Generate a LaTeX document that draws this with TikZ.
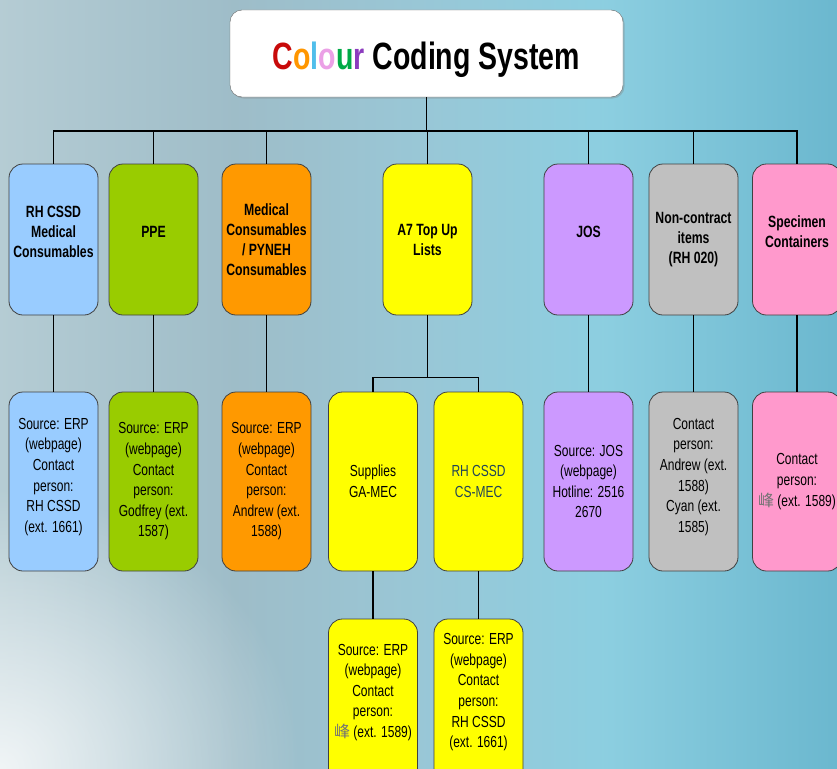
\documentclass[tikz,border=0pt]{standalone}
\usepackage{fontspec}
\setmainfont[FakeStretch=0.75]{Liberation Sans}
\newfontfamily\cjkfont{Noto Sans CJK TC}
\usepackage{xcolor}
\usepackage{tikz}
\usetikzlibrary{shadows,fadings}

\definecolor{rhblue}{HTML}{99CCFF}
\definecolor{ppegreen}{HTML}{99CC00}
\definecolor{medorange}{HTML}{FF9900}
\definecolor{topyellow}{HTML}{FFFF00}
\definecolor{jospurple}{HTML}{CC99FF}
\definecolor{ncgrey}{HTML}{C0C0C0}
\definecolor{specpink}{HTML}{FF99CC}
\definecolor{csmec}{RGB}{32,68,88}
\definecolor{lettC}{RGB}{200,10,10}
\definecolor{lettO}{RGB}{255,150,0}
\definecolor{lettL}{RGB}{80,190,235}
\definecolor{lettP}{RGB}{235,160,230}
\definecolor{lettU}{RGB}{0,170,70}
\definecolor{lettR}{RGB}{140,60,190}

\pgfdeclarehorizontalshading{bgshade}{100bp}{rgb(0bp)=(0.71,0.80,0.83); rgb(25bp)=(0.71,0.80,0.83); rgb(39bp)=(0.62,0.74,0.785); rgb(50bp)=(0.60,0.78,0.84); rgb(61bp)=(0.55,0.81,0.88); rgb(75bp)=(0.42,0.72,0.81); rgb(100bp)=(0.42,0.72,0.81)}
\tikzfading[name=glow, inner color=transparent!0, outer color=transparent!100]

\begin{document}
\begin{tikzpicture}[x=1pt,y=-1pt,
  box/.style={draw=black!75, line width=0.8pt, rounded corners=14pt, align=center,
    inner sep=2pt, minimum width=89pt, text=black},
  catbox/.style={box, minimum height=151pt, font=\bfseries\fontsize{16.3}{20}\selectfont},
  infobox/.style={box, minimum height=179pt, font=\fontsize{16}{20.6}\selectfont},
  conn/.style={line width=1.8pt}]
\useasboundingbox (0,0) rectangle (837,768);
% background
\shade[shading=bgshade] (0,0) rectangle (837,768);
\fill[white, path fading=glow, fill opacity=0.8] (0,768) ellipse (300 and 280);
%
\node[draw=black!60, fill=white, rounded corners=12pt, minimum width=393pt, minimum height=87pt,
  drop shadow={shadow xshift=1.5pt, shadow yshift=-1.5pt, opacity=0.35},
  text height=31pt, text depth=0pt,
  font=\bfseries\fontsize{38}{44}\selectfont] (title) at (426.5,53.5)
  {{\color{lettC}C}{\color{lettO}o}{\color{lettL}l}{\color{lettP}o}{\color{lettU}u}{\color{lettR}r} Coding System};
%
\node[catbox, fill=rhblue] (rhcssd) at (53.5,239.5) {RH CSSD\\Medical\\Consumables\\[-10pt]\strut};
\node[catbox, fill=ppegreen] (ppe) at (153.5,239.5) {PPE\\[-10pt]\strut};
\node[catbox, fill=medorange] (medcon) at (266.5,239.5) {Medical\\Consumables\\/ PYNEH\\Consumables};
\node[catbox, fill=topyellow] (atopup) at (427.5,239.5) {A7 Top Up\\Lists};
\node[catbox, fill=jospurple] (jos) at (588.5,239.5) {JOS\\[-10pt]\strut};
\node[catbox, fill=ncgrey] (noncon) at (693.5,239.5) {Non-contract\\items\\(RH 020)};
\node[catbox, fill=specpink] (specimen) at (797,239.5) {Specimen\\Containers\\[-10pt]\strut};
%
\node[infobox, fill=rhblue] (rhcssdinfo) at (53.5,481.5) {Source: ERP\\(webpage)\\Contact\\person:\\RH CSSD\\(ext. 1661)\\[-14pt]\strut};
\node[infobox, fill=ppegreen] (ppeinfo) at (153.5,481.5) {Source: ERP\\(webpage)\\Contact\\person:\\Godfrey (ext.\\1587)};
\node[infobox, fill=medorange] (medconinfo) at (266.5,481.5) {Source: ERP\\(webpage)\\Contact\\person:\\Andrew (ext.\\1588)};
\node[infobox, fill=topyellow] (gamec) at (373,481.5) {Supplies\\GA-MEC};
\node[infobox, fill=topyellow, text=csmec] (csmec) at (478.5,481.5) {RH CSSD\\CS-MEC};
\node[infobox, fill=jospurple] (josinfo) at (588.5,481.5) {Source: JOS\\(webpage)\\Hotline: 2516\\2670};
\node[infobox, fill=ncgrey] (noncoinfo) at (693.5,481.5) {Contact\\person:\\Andrew (ext.\\1588)\\Cyan (ext.\\1585)\\[-14pt]\strut};
\node[infobox, fill=specpink] (specinfo) at (797,481.5) {Contact\\person:\\{\cjkfont\color{black!55}峰} (ext. 1589)};
%
\node[infobox, fill=topyellow, minimum height=170pt] (gamecinfo) at (373,704) {Source: ERP\\(webpage)\\Contact\\person:\\{\cjkfont\color{black!55}峰} (ext. 1589)\\\strut};
\node[infobox, fill=topyellow, minimum height=170pt] (csmecinfo) at (478.5,704) {Source: ERP\\(webpage)\\Contact\\person:\\RH CSSD\\(ext. 1661)\\\strut};
%
\foreach \n in {rhcssd,ppe,medcon,atopup,jos,noncon,specimen}
  \draw[conn] (title.south) -- ++(0,34) -| (\n.north);
\foreach \a/\b in {rhcssd/rhcssdinfo,ppe/ppeinfo,medcon/medconinfo,jos/josinfo,noncon/noncoinfo,specimen/specinfo,gamec/gamecinfo,csmec/csmecinfo}
  \draw[conn] (\a.south) -- (\b.north);
\foreach \n in {gamec,csmec}
  \draw[conn] (atopup.south) -- ++(0,62) -| (\n.north);
\end{tikzpicture}
\end{document}
